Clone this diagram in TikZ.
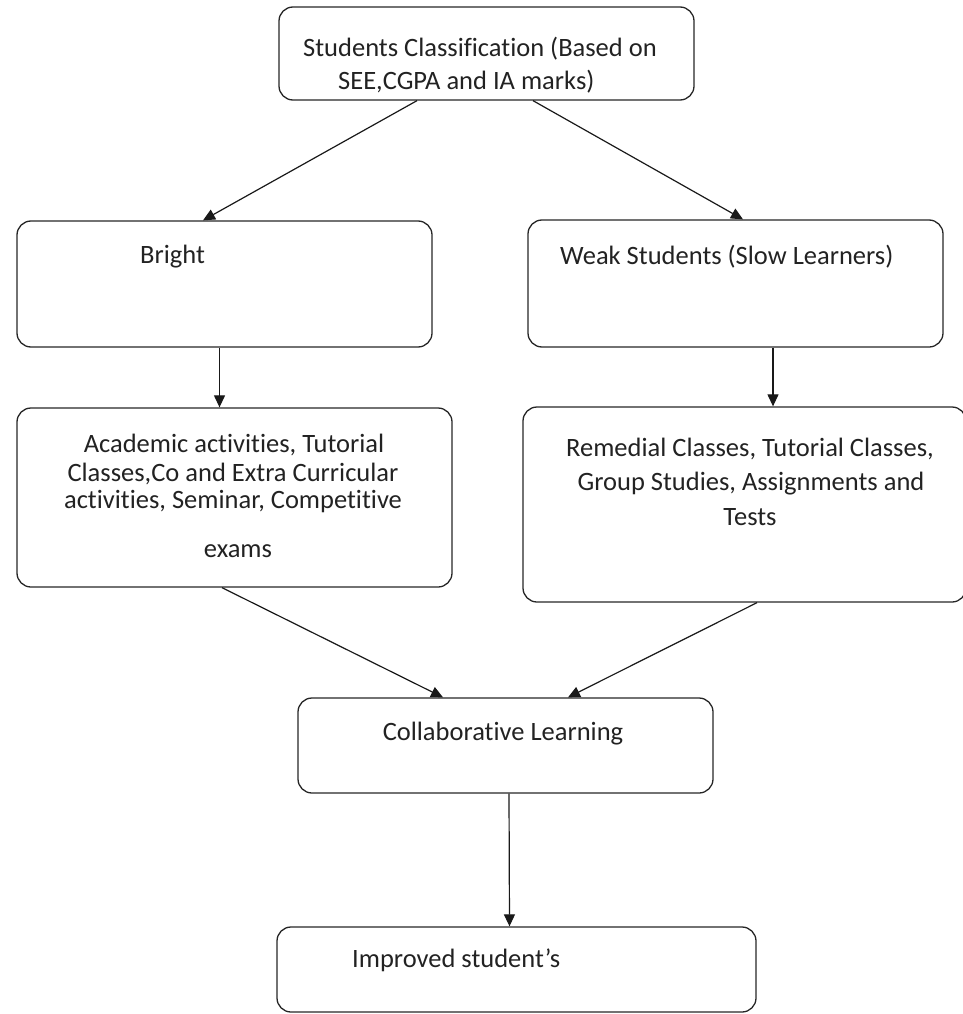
\documentclass[tikz,border=0pt]{standalone}
\usepackage{fontspec}
\setmainfont{Carlito}[Ligatures=CommonOff]
\usetikzlibrary{arrows.meta}
\definecolor{ink}{HTML}{222222}
\begin{document}
\begin{tikzpicture}[x=1pt,y=-1pt,
  box/.style={draw=black!85, rounded corners=14pt, line width=1.3pt, inner sep=0pt},
  txt/.style={text=ink, font=\fontsize{26.5}{30}\selectfont, inner sep=0pt},
  arr/.style={draw=black!90, line width=1.2pt, -{Triangle[length=12pt,width=11pt]}}]
\useasboundingbox (0,0) rectangle (963,1014);
\clip (0,0) rectangle (963,1014);

% boxes
\node[box, minimum width=415pt, minimum height=93pt]  (top)    at (486.5,53.5) {};
\node[box, minimum width=415pt, minimum height=126pt] (bright) at (224.5,284)  {};
\node[box, minimum width=415pt, minimum height=127pt] (weak)   at (735.5,283.5) {};
\node[box, minimum width=435pt, minimum height=179pt] (acad)   at (234.5,497.5) {};
\node[box, minimum width=443pt, minimum height=195pt] (remed)  at (744.5,504.5) {};
\node[box, minimum width=415pt, minimum height=95pt]  (collab) at (505.5,745.5) {};
\node[box, minimum width=479pt, minimum height=85pt]  (impr)   at (516.5,969.5) {};

% labels
\node[txt, anchor=base west] (t1) at (303,57) {Students Classification (Based on};
\node[txt, anchor=base west] (t2) at (338,90) {SEE,CGPA and IA marks)};
\node[txt, anchor=base west] (b1) at (140,263) {Bright};
\node[txt, anchor=base west] (w1) at (560,264) {Weak Students (Slow Learners)};
\node[txt, anchor=base] (a1) at (234,452) {Academic activities, Tutorial};
\node[txt, anchor=base] (a2) at (233,481) {Classes,Co and Extra Curricular};
\node[txt, anchor=base] (a3) at (233,508) {activities, Seminar, Competitive};
\node[txt, anchor=base] (a4) at (238,557) {exams};
\node[txt, anchor=base] (r1) at (750,456) {Remedial Classes, Tutorial Classes,};
\node[txt, anchor=base] (r2) at (751,490) {Group Studies, Assignments and};
\node[txt, anchor=base] (r3) at (750,525) {Tests};
\node[txt, anchor=base] (c1) at (503,740) {Collaborative Learning};
\node[txt, anchor=base west] (i1) at (352,967) {Improved student’s};

% connectors
\draw[arr] ([xshift=-69.5pt]top.south) -- ([xshift=-21.5pt]bright.north);
\draw[arr] ([xshift=46.5pt]top.south)  -- ([xshift=7.5pt]weak.north);
\draw[arr] ([xshift=-5pt]bright.south) -- ([xshift=-15pt]acad.north);
\draw[arr] ([xshift=37.5pt]weak.south) -- ([xshift=28.5pt]remed.north);
\draw[arr] ([xshift=-12.5pt]acad.south) -- ([xshift=-62.5pt]collab.north);
\draw[arr] ([xshift=12.5pt]remed.south) -- ([xshift=62.5pt]collab.north);
\draw[arr] ([xshift=3.5pt]collab.south) -- ([xshift=-7pt]impr.north);
\end{tikzpicture}
\end{document}
